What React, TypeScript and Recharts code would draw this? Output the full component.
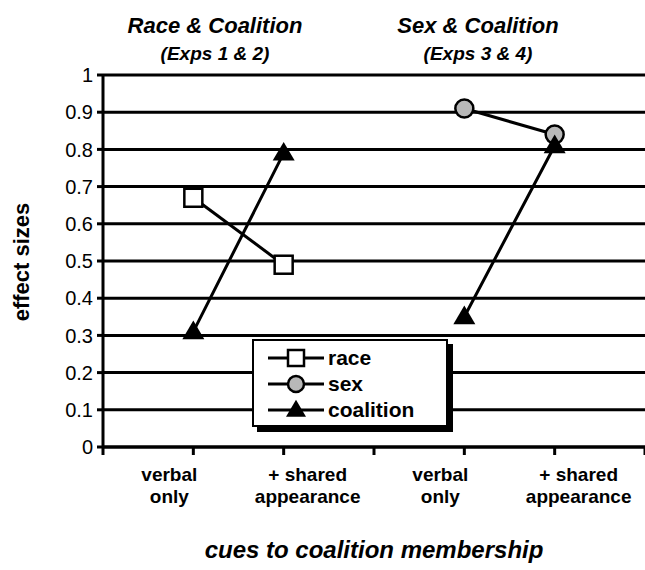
import { LineChart, Line, XAxis, YAxis, CartesianGrid } from "recharts";

const categories = ["verbal only", "+ shared appearance", "verbal only", "+ shared appearance"];
const raceValues = [0.67, 0.49, null, null];
const sexValues = [null, null, 0.91, 0.84];
const coalitionValues = [0.31, 0.79, 0.35, 0.81];
const yTicks = [0, 0.1, 0.2, 0.3, 0.4, 0.5, 0.6, 0.7, 0.8, 0.9, 1];
const xTicks = [0, 1, 2, 3, 4, 5, 6];
const panelTitles = [
  { title: "Race & Coalition", sub: "(Exps 1 & 2)" },
  { title: "Sex & Coalition", sub: "(Exps 3 & 4)" },
];
const seriesNames = ["race", "sex", "coalition"];

const FONT = "'Liberation Sans', Arial, sans-serif";

// two categories per experiment pair, with an empty slot between the pairs
const slotOf = (i: number) => i + Math.floor(i / 2) + 1;

const rows: any[] = [];
categories.forEach((c, i) => {
  rows.push({ x: slotOf(i), race: raceValues[i], sex: sexValues[i], coalition: coalitionValues[i] });
  if (i === 1) rows.push({ x: 3, race: null, sex: null, coalition: null });
});

function Square({ cx, cy, size = 18 }: any) {
  return <rect x={cx - size / 2} y={cy - size / 2} width={size} height={size} fill="#fff" stroke="#000" strokeWidth={2.5} />;
}
function Circle({ cx, cy, r = 9 }: any) {
  return <circle cx={cx} cy={cy} r={r} fill="#b8b8b8" stroke="#000" strokeWidth={2.5} />;
}
function Triangle({ cx, cy, w = 22 }: any) {
  const h = w * 0.85;
  return <path d={`M${cx},${cy - h * 0.6} L${cx + w / 2},${cy + h * 0.4} L${cx - w / 2},${cy + h * 0.4} Z`} fill="#000" />;
}

const markers: Record<string, any> = { race: Square, sex: Circle, coalition: Triangle };

const makeDot = (name: string) => (props: any) => {
  if (props.value == null || props.cy == null) return <g key={props.key} />;
  const M = markers[name];
  return <M key={props.key} cx={props.cx} cy={props.cy} />;
};

function XTick({ x, y, payload }: any) {
  const i = categories.findIndex((_, k) => slotOf(k) === payload.value);
  if (i < 0) return <g />;
  const label = categories[i];
  const cut = label.lastIndexOf(" ");
  const lines = [label.slice(0, cut), label.slice(cut + 1)];
  const dx = i % 2 === 0 ? -24 : 24;
  return (
    <text x={x + dx} y={y} textAnchor="middle" fontFamily={FONT} fontWeight="bold" fontSize={19} fill="#000">
      {lines.map((l, k) => (
        <tspan key={k} x={x + dx} dy={k === 0 ? 24 : 22}>
          {l}
        </tspan>
      ))}
    </text>
  );
}

function LegendBox() {
  return (
    <div style={{ position: "absolute", left: 252, top: 339, width: 200, height: 92 }}>
      <div style={{ position: "absolute", left: 5, top: 5, width: 196, height: 88, background: "#000" }} />
      <div
        style={{
          position: "absolute",
          left: 0,
          top: 0,
          width: 192,
          height: 84,
          background: "#fff",
          border: "2px solid #000",
          fontFamily: FONT,
          fontWeight: "bold",
          fontSize: 21,
        }}
      >
        {seriesNames.map((n, k) => {
          const M = markers[n];
          return (
            <div key={n} style={{ display: "flex", alignItems: "center", height: 26, marginTop: k === 0 ? 4 : 0 }}>
              <svg width={62} height={24} style={{ marginLeft: 12 }}>
                <line x1={2} y1={12} x2={58} y2={12} stroke="#000" strokeWidth={3} />
                <M cx={30} cy={12} size={16} r={8} w={20} />
              </svg>
              <span style={{ lineHeight: "22px" }}>{n}</span>
            </div>
          );
        })}
      </div>
    </div>
  );
}

export default function App() {
  return (
    <div style={{ position: "absolute", left: 0, top: 0, width: 645, height: 570, background: "#fff" }}>
      <LineChart width={645} height={570} data={rows} margin={{ top: 75, right: 0, bottom: 0, left: 0 }}>
        <CartesianGrid vertical={false} stroke="#000" strokeWidth={3} horizontalValues={yTicks} />
        <XAxis
          dataKey="x"
          type="number"
          domain={[0, 6]}
          ticks={xTicks}
          interval={0}
          height={123}
          tick={<XTick />}
          tickSize={8}
          axisLine={{ stroke: "#000", strokeWidth: 3 }}
          tickLine={{ stroke: "#000", strokeWidth: 3 }}
        />
        <YAxis
          domain={[0, 1]}
          ticks={yTicks}
          interval={0}
          width={103}
          tickSize={6}
          tickMargin={4}
          axisLine={{ stroke: "#000", strokeWidth: 3 }}
          tickLine={{ stroke: "#000", strokeWidth: 3 }}
          tick={{ fill: "#000", fontFamily: FONT, fontSize: 20 }}
        />
        <Line dataKey="race" stroke="#000" strokeWidth={3} dot={makeDot("race")} activeDot={false} isAnimationActive={false} />
        <Line dataKey="sex" stroke="#000" strokeWidth={3} dot={makeDot("sex")} activeDot={false} isAnimationActive={false} />
        <Line dataKey="coalition" stroke="#000" strokeWidth={3} dot={makeDot("coalition")} activeDot={false} isAnimationActive={false} />
      </LineChart>
      <LegendBox />
      {panelTitles.map((p, k) => (
        <div
          key={k}
          style={{
            position: "absolute",
            left: k === 0 ? 105 : 368,
            top: 12,
            width: 220,
            textAlign: "center",
            fontFamily: FONT,
            fontWeight: "bold",
            fontStyle: "italic",
          }}
        >
          <div style={{ fontSize: 22, lineHeight: "28px" }}>{p.title}</div>
          <div style={{ fontSize: 19, lineHeight: "24px", marginTop: 2 }}>{p.sub}</div>
        </div>
      ))}
      <div
        style={{
          position: "absolute",
          left: 22,
          top: 262,
          transform: "translate(-50%, -50%) rotate(-90deg)",
          fontFamily: FONT,
          fontWeight: "bold",
          fontSize: 22,
          whiteSpace: "nowrap",
        }}
      >
        effect sizes
      </div>
      <div
        style={{
          position: "absolute",
          left: 0,
          width: 645,
          paddingLeft: 103,
          boxSizing: "border-box",
          top: 536,
          textAlign: "center",
          fontFamily: FONT,
          fontWeight: "bold",
          fontStyle: "italic",
          fontSize: 24,
        }}
      >
        cues to coalition membership
      </div>
    </div>
  );
}
